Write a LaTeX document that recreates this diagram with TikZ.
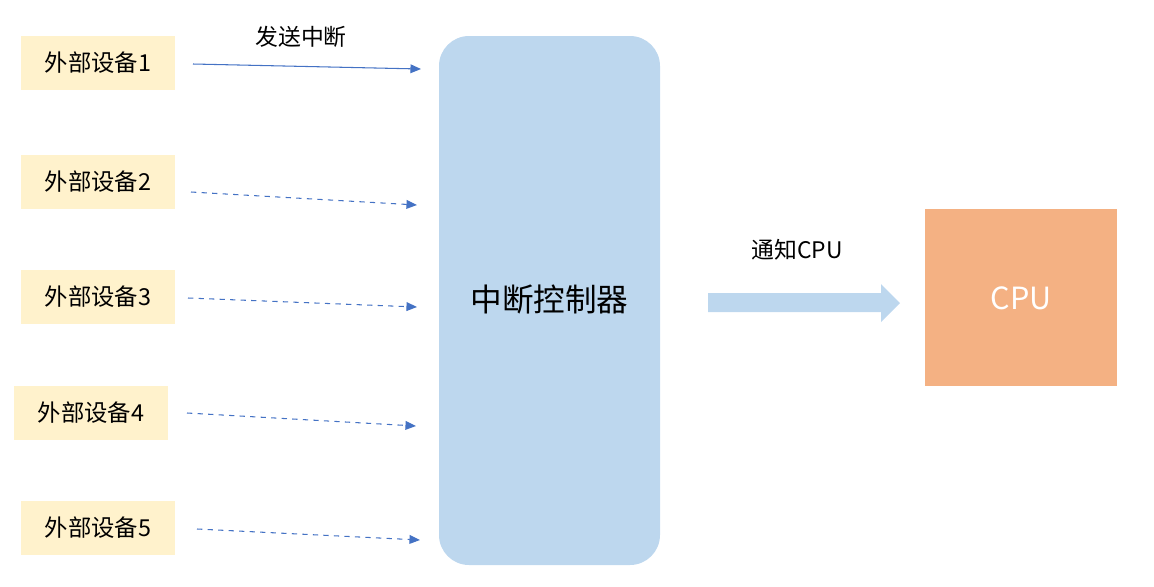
\documentclass[tikz,border=0pt]{standalone}
\usepackage{fontspec}
\setmainfont{Noto Sans CJK SC}
\usetikzlibrary{arrows.meta}
\definecolor{devfill}{HTML}{FFF2CC}
\definecolor{ctrlfill}{HTML}{BDD7EE}
\definecolor{cpufill}{HTML}{F4B183}
\definecolor{sigblue}{HTML}{4472C4}
\tikzset{
  device/.style={fill=devfill, minimum width=154*0.02cm, minimum height=54*0.02cm, inner sep=0pt, font=\fontsize{13.3}{15}\selectfont},
  signal/.style={sigblue, -{Triangle[length=6pt,width=5pt]}, line width=0.6pt},
}
\begin{document}
\begin{tikzpicture}[x=0.02cm,y=-0.02cm]
  \useasboundingbox (0,0) rectangle (1154,586);

  \node[device] (d1) at (98,63) {外部设备1};
  \node[device] (d2) at (98,182) {外部设备2};
  \node[device] (d3) at (98,297) {外部设备3};
  \node[device] (d4) at (91,413) {外部设备4};
  \node[device] (d5) at (98,528) {外部设备5};

  \fill[ctrlfill, rounded corners=30*0.02cm] (439,36) rectangle (660,565);
  \node (ctrl) at (549.5,300) {\fontsize{18}{20}\selectfont 中断控制器};

  \fill[cpufill] (925,209) rectangle (1117,386);
  \node[text=white] (cpu) at (1021,298) {\fontsize{17.4}{20}\selectfont CPU};

  \coordinate (s1) at (193,64);  \coordinate (e1) at (421,69);
  \coordinate (s2) at (191,192); \coordinate (e2) at (417,205);
  \coordinate (s3) at (188,298); \coordinate (e3) at (417,307);
  \coordinate (s4) at (187,413); \coordinate (e4) at (416,426);
  \coordinate (s5) at (197,529); \coordinate (e5) at (420,540);

  \draw[signal] (s1) -- (e1);
  \draw[signal, dashed] (s2) -- (e2);
  \draw[signal, dashed] (s3) -- (e3);
  \draw[signal, dashed] (s4) -- (e4);
  \draw[signal, dashed] (s5) -- (e5);

  \node (send) at (301,37) {\fontsize{13}{15}\selectfont 发送中断};
  \node (notify) at (797,250) {\fontsize{13}{15}\selectfont 通知CPU};

  % thick arrow to the cpu
  \fill[ctrlfill] (708,293) -- (881,293) -- (881,284) -- (900,303) -- (881,322) -- (881,312) -- (708,312) -- cycle;
\end{tikzpicture}
\end{document}
